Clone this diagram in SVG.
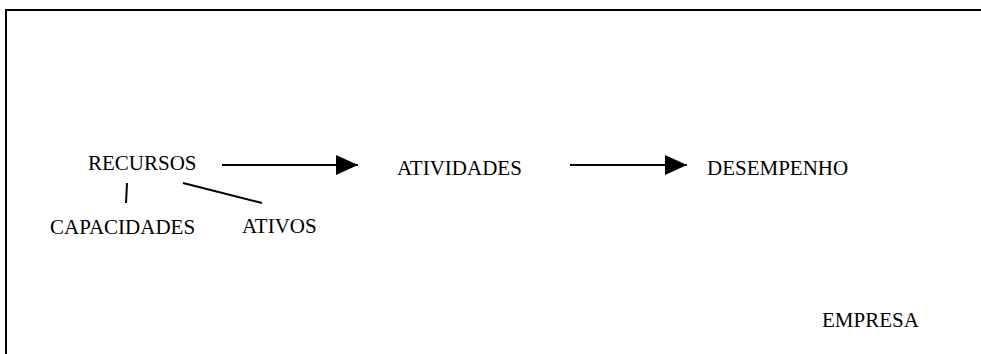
<svg xmlns="http://www.w3.org/2000/svg" width="981" height="354" viewBox="0 0 981 354">
<defs>
<style>
.t{font-family:"Liberation Serif","Times New Roman",serif;font-size:21px;fill:#000}
.ln{stroke:#000;stroke-width:2;fill:none}
</style>
<marker id="ah" markerUnits="userSpaceOnUse" markerWidth="22" markerHeight="20" refX="22" refY="10" orient="auto">
<path d="M0,0 L22,10 L0,20 Z" fill="#000"/>
</marker>
</defs>
<rect width="981" height="354" fill="#fff"/>
<g id="frame">
<path class="ln" d="M6,354 L6,10 L981,10"/>
</g>
<g id="recursos"><text class="t" x="88" y="170">RECURSOS</text></g>
<g id="capacidades"><text class="t" x="50" y="234">CAPACIDADES</text></g>
<g id="ativos"><text class="t" x="242" y="233">ATIVOS</text></g>
<g id="atividades"><text class="t" x="397" y="175">ATIVIDADES</text></g>
<g id="desempenho"><text class="t" x="707" y="175">DESEMPENHO</text></g>
<g id="empresa"><text class="t" x="822" y="327">EMPRESA</text></g>
<g id="connectors">
<line class="ln" x1="222" y1="165" x2="358" y2="165" marker-end="url(#ah)"/>
<line class="ln" x1="570" y1="165" x2="687" y2="165" marker-end="url(#ah)"/>
<line class="ln" x1="127" y1="183" x2="126" y2="203"/>
<line class="ln" x1="183" y1="183" x2="262" y2="203"/>
</g>
</svg>
